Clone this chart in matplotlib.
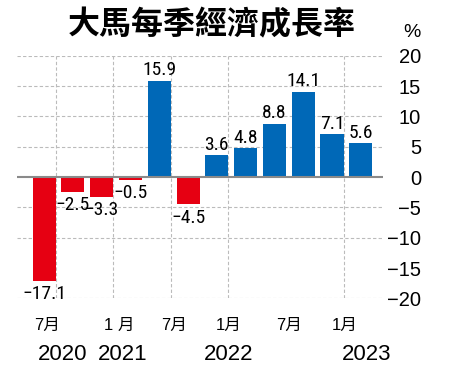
import numpy as np
import matplotlib
matplotlib.use("Agg")
import matplotlib.pyplot as plt
from matplotlib.font_manager import fontManager

# quarterly GDP growth, Q2 2020 .. Q1 2023
quarters = ["2020Q2", "2020Q3", "2020Q4", "2021Q1", "2021Q2", "2021Q3",
            "2021Q4", "2022Q1", "2022Q2", "2022Q3", "2022Q4", "2023Q1"]
growth = [-17.1, -2.5, -3.3, -0.5, 15.9, -4.5, 3.6, 4.8, 8.8, 14.1, 7.1, 5.6]

month_labels = ["7月", "1 月", "7月", "1月", "7月", "1月"]
month_pos = [0.1, 2.6, 4.5, 6.4, 8.5, 10.45]
year_labels = ["2020", "2021", "2022", "2023"]
year_pos = [0.63, 2.74, 6.42, 11.2]

yticks = [20, 15, 10, 5, 0, -5, -10, -15, -20]
hgrid = [20, 15, 10, 5, -5, -10, -20]
vgrid_bars = [0, 2, 4, 6, 10]

# look for a condensed face for the value labels
names = {f.name for f in fontManager.ttflist}
cond_names = {f.name for f in fontManager.ttflist if f.stretch in ("condensed", "semi-condensed", 500, 300)}
narrow = None
for cand in ["Roboto Condensed", "Liberation Sans Narrow", "Open Sans Condensed"]:
    if cand in names:
        narrow = dict(family=cand, fontsize=14)
        break
if narrow is None and "DejaVu Sans" in cond_names:
    narrow = dict(family="DejaVu Sans", fontstretch="condensed", fontsize=12.5)
if narrow is None:
    narrow = dict(family="Liberation Sans", fontsize=12.5)
cjk = ["Liberation Sans", "Noto Sans CJK TC"]

RED = "#e60012"
BLUE = "#0068b7"

fig = plt.figure(figsize=(4.5, 3.87), dpi=100)
ax = fig.add_axes([0.038, 0.229, 0.813, 0.627])

x = np.arange(len(growth))
colors = [RED if v < 0 else BLUE for v in growth]
ax.bar(x, growth, width=0.8, color=colors, zorder=3)

for y in hgrid:
    ax.axhline(y, color="#bbbbbb", lw=0.8, ls=(0, (3, 2)), zorder=1)
for i in vgrid_bars:
    ax.axvline(i + 0.4, color="#bbbbbb", lw=0.8, ls=(0, (3, 2)), zorder=1)
ax.axhline(0, color="#8a8a8a", lw=1.5, zorder=4)

for xi, v in zip(x, growth):
    txt = f"{v:.1f}".replace("-", "\u2212")
    if v >= 0:
        ax.annotate(txt, (xi, v), xytext=(0, 1), textcoords="offset points",
                    ha="center", va="bottom", **narrow)
    else:
        ax.annotate(txt, (xi, v), xytext=(0, -3), textcoords="offset points",
                    ha="center", va="top", **narrow)

ax.set_xlim(-0.94, 11.77)
ax.set_ylim(-20, 20)
ax.set_xticks([])
ax.yaxis.tick_right()
ax.set_yticks(yticks)
ax.set_yticklabels([str(t).replace("-", "\u2212") for t in yticks],
                   fontsize=14.5, family="Liberation Sans", ha="right")
ax.tick_params(axis="y", length=0, pad=27.5)
for s in ax.spines.values():
    s.set_visible(False)

tr = ax.get_xaxis_transform()
for p, lab in zip(month_pos, month_labels):
    ax.text(p, -0.11, lab, transform=tr, ha="center", va="center",
            fontsize=12, family=cjk)
for p, lab in zip(year_pos, year_labels):
    ax.text(p, -0.23, lab, transform=tr, ha="center", va="center",
            fontsize=16, family="Liberation Sans")

fig.text(0.47, 0.935, "大馬每季經濟成長率", ha="center", va="center",
         fontsize=23, fontweight="black", family="Noto Sans CJK TC")
fig.text(0.915, 0.917, "%", ha="center", va="center", fontsize=14,
         family="Liberation Sans")

fig.savefig("out.png", dpi=100)
